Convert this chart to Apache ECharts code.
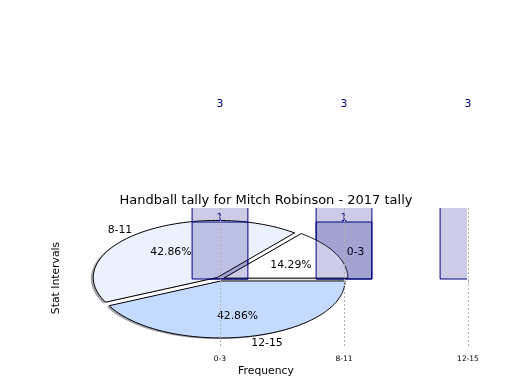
<!DOCTYPE html>
<html><head><meta charset="utf-8">
<script src="https://cdn.jsdelivr.net/npm/echarts@6/dist/echarts.min.js"></script>
<style>html,body{margin:0;padding:0;background:#fff}#c{width:520px;height:390px}</style>
</head><body><div id="c"></div>
<script>
// ---- data ----
const categories = ['0-3', '8-11', '12-15'];
const barTotals = [3, 3, 3];
const barCounts = [1, 1, null];
const pieLabels = ['0-3', '8-11', '12-15'];
const pieValues = [1, 3, 3];
const chartTitle = 'Handball tally for Mitch Robinson - 2017 tally';
const xName = 'Frequency';
const yName = 'Stat Intervals';

// ---- styling ----
const FONT = 'DejaVu Sans';
const BAR_W = 0.45;
const EXPLODE = 0.035;
const LABEL_R = 1.1, PCT_R = 0.6;
const TEXT_DY = 1.5;
const pieColors = ['#ffffff', '#ebf1fd', '#c5daff'];
const pieTotal = pieValues.reduce((a, b) => a + b, 0);

function hexRgb(h) { const n = parseInt(h.slice(1), 16); return [(n >> 16) & 255, (n >> 8) & 255, n & 255]; }

function barItem(params, api, clip) {
  const x = api.value(0), v = api.value(1);
  const pb = api.coord([x - BAR_W / 2, 0]);
  const pt = api.coord([x + BAR_W / 2, v]);
  const cs = params.coordSys;
  const rect = {
    type: 'rect',
    shape: { x: pb[0], y: pt[1], width: pt[0] - pb[0], height: pb[1] - pt[1] },
    style: { fill: 'rgba(0,0,128,0.2)', stroke: '#000080', lineWidth: 1 }
  };
  if (clip) rect.clipPath = { type: 'rect', shape: { x: cs.x, y: cs.y, width: cs.width - 1, height: cs.height } };
  const label = {
    type: 'text', x: (pb[0] + pt[0]) / 2, y: pt[1] - 3.5, z2: 20,
    style: { text: String(v), fill: '#000080', font: '10.8px "' + FONT + '"', align: 'center', verticalAlign: 'middle' }
  };
  return { type: 'group', children: [rect, label] };
}

function pieItem(params, api) {
  const i = params.dataIndex;
  let acc = 0;
  for (let k = 0; k < i; k++) acc += pieValues[k];
  const a0 = acc / pieTotal * 2 * Math.PI;
  const a1 = (acc + pieValues[i]) / pieTotal * 2 * Math.PI;
  const mid = (a0 + a1) / 2;
  const ox = EXPLODE * Math.cos(mid), oy = EXPLODE * Math.sin(mid);
  const wedge = (dx, dy) => {
    const pts = [api.coord([ox + dx, oy + dy])];
    const n = 90;
    for (let j = 0; j <= n; j++) {
      const t = a0 + (a1 - a0) * j / n;
      pts.push(api.coord([ox + dx + Math.cos(t), oy + dy + Math.sin(t)]));
    }
    return pts;
  };
  const c = hexRgb(pieColors[i]);
  const shadowCol = 'rgba(' + c.map(x => Math.round(x * 0.3)).join(',') + ',0.5)';
  const lp = api.coord([ox + LABEL_R * Math.cos(mid), oy + LABEL_R * Math.sin(mid)]);
  const pp = api.coord([ox + PCT_R * Math.cos(mid), oy + PCT_R * Math.sin(mid)]);
  const cm = Math.cos(mid);
  const pct = (pieValues[i] / pieTotal * 100).toFixed(2) + '%';
  return {
    type: 'group',
    children: [
      { type: 'polygon', z2: 0, shape: { points: wedge(-0.02, -0.02) }, style: { fill: shadowCol, stroke: null } },
      { type: 'polygon', z2: 5, shape: { points: wedge(0, 0) }, style: { fill: pieColors[i], stroke: '#000', lineWidth: 1 } },
      { type: 'text', z2: 10, x: lp[0], y: lp[1] + TEXT_DY, style: { text: pieLabels[i], fill: '#000', font: '10.8px "' + FONT + '"', align: cm > 1e-9 ? 'left' : (cm < -1e-9 ? 'right' : 'center'), verticalAlign: 'middle' } },
      { type: 'text', z2: 10, x: pp[0], y: pp[1] + TEXT_DY, style: { text: pct, fill: '#000', font: '10.8px "' + FONT + '"', align: 'center', verticalAlign: 'middle' } }
    ]
  };
}

const chart = echarts.init(document.getElementById('c'), null, { renderer: 'canvas' });
chart.setOption({
  animation: false,
  backgroundColor: '#fff',
  textStyle: { fontFamily: FONT },
  title: {
    text: chartTitle, left: 266, textAlign: 'center', top: 194, padding: 0,
    textStyle: { fontFamily: FONT, fontSize: 13, fontWeight: 'normal', color: '#000' }
  },
  grid: { left: 64, right: 52, top: 208, bottom: 42, containLabel: false },
  xAxis: {
    type: 'value', min: -1.258, max: 2, z: 10,
    name: xName, nameLocation: 'middle', nameGap: 18,
    nameTextStyle: { fontFamily: FONT, fontSize: 10.8, color: '#000' },
    axisLine: { show: false },
    axisTick: { show: true, customValues: [0, 1, 2], length: 4, lineStyle: { color: '#b0b0b0', width: 1 } },
    axisLabel: { show: true, customValues: [0, 1, 2], margin: 7, fontSize: 7.5, fontFamily: FONT, color: '#000',
      formatter: v => categories[Math.round(v)] || '' },
    splitLine: { show: true, lineStyle: { color: '#b0b0b0', type: [2, 2], width: 1 } }
  },
  yAxis: {
    type: 'value', min: -1.2105, max: 1.2456,
    name: yName, nameLocation: 'middle', nameRotate: 90, nameGap: 2,
    nameTextStyle: { fontFamily: FONT, fontSize: 10.8, color: '#000' },
    axisLine: { show: false }, axisTick: { show: false }, axisLabel: { show: false }, splitLine: { show: false }
  },
  series: [
    {
      type: 'custom', name: 'totals', z: 1, coordinateSystem: 'cartesian2d',
      data: barTotals.map((v, i) => [i, v]).filter(d => d[1] != null),
      renderItem: (p, api) => barItem(p, api, true)
    },
    {
      type: 'custom', name: 'pie', z: 2, coordinateSystem: 'cartesian2d',
      data: pieValues.map(v => [0, 0, v]),
      renderItem: pieItem
    },
    {
      type: 'custom', name: 'counts', z: 3, coordinateSystem: 'cartesian2d',
      data: barCounts.map((v, i) => [i, v]).filter(d => d[1] != null),
      renderItem: (p, api) => barItem(p, api, false)
    }
  ]
});
</script>
</body></html>
